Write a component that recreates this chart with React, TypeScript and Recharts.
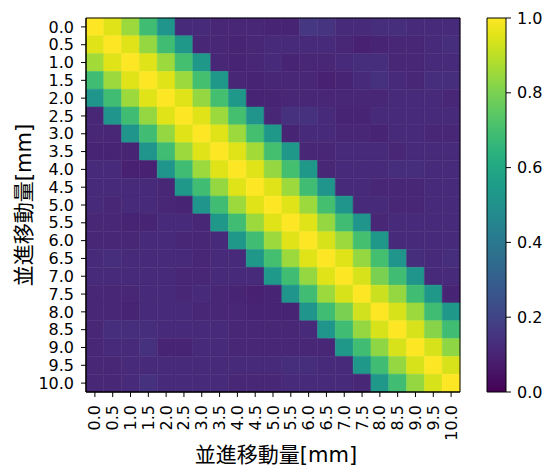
import React from "react";
import { ComposedChart, XAxis, YAxis, ReferenceArea } from "recharts";

const LABELS = ["0.0","0.5","1.0","1.5","2.0","2.5","3.0","3.5","4.0","4.5","5.0","5.5","6.0","6.5","7.0","7.5","8.0","8.5","9.0","9.5","10.0"];
const AXIS_TITLE = "並進移動量[mm]";
const CBAR_TICKS = [0, 0.2, 0.4, 0.6, 0.8, 1.0];

const ROW_00 = [1.00,0.95,0.85,0.69,0.52,0.12,0.12,0.11,0.11,0.11,0.10,0.10,0.16,0.15,0.12,0.12,0.13,0.13,0.12,0.12,0.12];
const ROW_01 = [0.95,1.00,0.95,0.84,0.69,0.53,0.11,0.11,0.10,0.11,0.12,0.12,0.12,0.12,0.11,0.09,0.10,0.11,0.11,0.12,0.13];
const ROW_02 = [0.86,0.95,1.00,0.95,0.85,0.70,0.53,0.11,0.10,0.11,0.12,0.10,0.11,0.11,0.12,0.13,0.13,0.11,0.11,0.12,0.12];
const ROW_03 = [0.69,0.85,0.95,1.00,0.95,0.85,0.70,0.53,0.11,0.10,0.11,0.11,0.11,0.09,0.10,0.12,0.14,0.12,0.11,0.13,0.13];
const ROW_04 = [0.52,0.69,0.85,0.95,1.00,0.95,0.84,0.70,0.53,0.10,0.10,0.11,0.11,0.11,0.11,0.11,0.11,0.12,0.12,0.12,0.11];
const ROW_05 = [0.11,0.52,0.69,0.84,0.95,1.00,0.95,0.85,0.70,0.52,0.11,0.14,0.14,0.12,0.10,0.10,0.12,0.12,0.12,0.12,0.12];
const ROW_06 = [0.11,0.11,0.52,0.69,0.84,0.95,1.00,0.95,0.85,0.70,0.53,0.10,0.12,0.12,0.11,0.11,0.10,0.12,0.12,0.11,0.11];
const ROW_07 = [0.10,0.10,0.10,0.52,0.69,0.85,0.95,1.00,0.95,0.86,0.70,0.53,0.11,0.11,0.12,0.12,0.12,0.11,0.12,0.12,0.12];
const ROW_08 = [0.12,0.12,0.09,0.09,0.52,0.69,0.85,0.95,1.00,0.95,0.84,0.70,0.53,0.11,0.12,0.12,0.12,0.13,0.13,0.12,0.12];
const ROW_09 = [0.12,0.12,0.12,0.12,0.11,0.53,0.69,0.84,0.95,1.00,0.95,0.85,0.69,0.52,0.12,0.12,0.11,0.11,0.11,0.12,0.12];
const ROW_10 = [0.12,0.11,0.12,0.12,0.11,0.10,0.52,0.69,0.85,0.95,1.00,0.95,0.85,0.70,0.52,0.12,0.12,0.11,0.11,0.12,0.12];
const ROW_11 = [0.11,0.11,0.10,0.10,0.12,0.12,0.11,0.53,0.69,0.85,0.95,1.00,0.95,0.84,0.69,0.52,0.11,0.12,0.12,0.12,0.12];
const ROW_12 = [0.11,0.11,0.11,0.12,0.12,0.11,0.11,0.12,0.53,0.69,0.85,0.95,1.00,0.94,0.85,0.70,0.53,0.12,0.12,0.12,0.12];
const ROW_13 = [0.12,0.13,0.12,0.12,0.12,0.12,0.11,0.12,0.12,0.53,0.70,0.85,0.95,1.00,0.95,0.84,0.70,0.52,0.13,0.12,0.13];
const ROW_14 = [0.12,0.12,0.12,0.12,0.12,0.11,0.11,0.12,0.12,0.12,0.54,0.69,0.84,0.95,1.00,0.94,0.80,0.69,0.52,0.12,0.12];
const ROW_15 = [0.11,0.11,0.11,0.12,0.12,0.11,0.12,0.11,0.10,0.09,0.10,0.52,0.69,0.85,0.94,1.00,0.92,0.84,0.69,0.53,0.10];
const ROW_16 = [0.11,0.11,0.10,0.12,0.12,0.12,0.11,0.11,0.11,0.10,0.10,0.10,0.52,0.69,0.80,0.93,1.00,0.94,0.85,0.69,0.53];
const ROW_17 = [0.11,0.13,0.13,0.13,0.12,0.12,0.12,0.12,0.11,0.11,0.11,0.11,0.12,0.52,0.69,0.84,0.94,1.00,0.94,0.82,0.69];
const ROW_18 = [0.11,0.12,0.12,0.14,0.10,0.10,0.12,0.12,0.11,0.11,0.11,0.11,0.11,0.11,0.53,0.69,0.83,0.94,1.00,0.94,0.83];
const ROW_19 = [0.11,0.11,0.12,0.12,0.12,0.12,0.12,0.12,0.12,0.12,0.12,0.13,0.13,0.12,0.12,0.53,0.69,0.84,0.94,1.00,0.94];
const ROW_20 = [0.11,0.11,0.12,0.14,0.12,0.12,0.12,0.12,0.11,0.11,0.11,0.12,0.12,0.12,0.12,0.11,0.53,0.69,0.84,0.94,1.00];

const MATRIX = [ROW_00,ROW_01,ROW_02,ROW_03,ROW_04,ROW_05,ROW_06,ROW_07,ROW_08,ROW_09,ROW_10,ROW_11,ROW_12,ROW_13,ROW_14,ROW_15,ROW_16,ROW_17,ROW_18,ROW_19,ROW_20];

// viridis colour map stops (style)
const VIRIDIS = ["#440154","#471365","#482475","#463480","#414487","#3b528b","#355f8d","#2f6c8e","#2a788e","#25848e","#21918c","#1e9c89","#22a884","#2fb47c","#44bf70","#5ec962","#7ad151","#9bd93c","#bddf26","#dfe318","#fde725"];

function hex(c: string) {
  return [parseInt(c.slice(1, 3), 16), parseInt(c.slice(3, 5), 16), parseInt(c.slice(5, 7), 16)];
}
function viridis(v: number) {
  const t = Math.max(0, Math.min(1, v)) * (VIRIDIS.length - 1);
  const i = Math.min(Math.floor(t), VIRIDIS.length - 2);
  const f = t - i;
  const a = hex(VIRIDIS[i]);
  const b = hex(VIRIDIS[i + 1]);
  const c = a.map((x, k) => Math.round(x + (b[k] - x) * f));
  return `rgb(${c[0]},${c[1]},${c[2]})`;
}

const cells = MATRIX.flatMap((row, r) => row.map((v, c) => ({ col: c, row: r, v })));
const IDX = LABELS.map((_, i) => i);

const FONT = "'DejaVu Sans', 'Noto Sans CJK JP', sans-serif";
const TICK_FS = 16;
const TICK_STYLE = { fontSize: TICK_FS, fill: "#000", fontFamily: FONT };

const XTick = (props: any) => {
  const { x, y, payload } = props;
  return (
    <text
      x={x}
      y={y}
      transform={`rotate(-90 ${x} ${y})`}
      textAnchor="end"
      dominantBaseline="central"
      fontSize={TICK_FS}
      fontFamily={FONT}
      fill="#000"
    >
      {LABELS[payload.value]}
    </text>
  );
};

export default function App() {
  return (
    <div style={{ position: "absolute", left: 0, top: 0, width: 547, height: 466, background: "#fff" }}>
      <div style={{ position: "absolute", left: 0, top: 0 }}>
        <ComposedChart width={547} height={466} data={cells} margin={{ top: 18, right: 87, bottom: 0, left: 0 }}>
          <XAxis
            type="number"
            dataKey="col"
            domain={[-0.5, 20.5]}
            ticks={IDX}
            interval={0}
            allowDataOverflow
            height={74}
            tick={<XTick />}
            tickSize={5}
            tickMargin={8}
            axisLine={{ stroke: "#000" }}
            tickLine={{ stroke: "#000" }}
          />
          <YAxis
            type="number"
            dataKey="row"
            domain={[-0.5, 20.5]}
            reversed
            ticks={IDX}
            interval={0}
            allowDataOverflow
            width={86}
            tick={TICK_STYLE}
            tickFormatter={(i: number) => LABELS[i]}
            tickSize={5}
            tickMargin={7}
            axisLine={{ stroke: "#000" }}
            tickLine={{ stroke: "#000" }}
          />
          {cells.map((d) => (
            <ReferenceArea
              key={`${d.row}-${d.col}`}
              x1={d.col - 0.5}
              x2={d.col + 0.5}
              y1={d.row - 0.5}
              y2={d.row + 0.5}
              fill={viridis(d.v)}
              fillOpacity={1}
              stroke={viridis(d.v)}
              strokeWidth={0.5}
              ifOverflow="visible"
            />
          ))}
          <ReferenceArea x1={-0.5} x2={20.5} y1={-0.5} y2={20.5} fill="none" fillOpacity={0} stroke="#000" strokeWidth={1} ifOverflow="visible" />
        </ComposedChart>
      </div>
      <div style={{ position: "absolute", left: 0, top: 0 }}>
        <ComposedChart width={547} height={466} data={[{ x: 0, y: 0 }]} margin={{ top: 18, right: 0, bottom: 74, left: 487 }}>
          <defs>
            <linearGradient id="viridisGrad" x1="0" y1="1" x2="0" y2="0">
              {VIRIDIS.map((c, i) => (
                <stop key={i} offset={`${(i / (VIRIDIS.length - 1)) * 100}%`} stopColor={c} />
              ))}
            </linearGradient>
          </defs>
          <XAxis type="number" dataKey="x" domain={[0, 1]} hide />
          <YAxis
            type="number"
            dataKey="y"
            orientation="right"
            domain={[0, 1]}
            ticks={CBAR_TICKS}
            interval={0}
            width={41}
            tick={TICK_STYLE}
            tickFormatter={(v: number) => v.toFixed(1)}
            tickSize={5}
            tickMargin={6}
            axisLine={false}
            tickLine={{ stroke: "#000" }}
          />
          <ReferenceArea x1={0} x2={1} y1={0} y2={1} fill="url(#viridisGrad)" fillOpacity={1} stroke="#000" strokeWidth={1} ifOverflow="visible" />
        </ComposedChart>
      </div>
      <svg width={547} height={466} style={{ position: "absolute", left: 0, top: 0, pointerEvents: "none" }}>
        <text x={276} y={455} textAnchor="middle" dominantBaseline="central" fontSize={21} fontFamily={FONT} fill="#000">
          {AXIS_TITLE}
        </text>
        <text x={24} y={205} transform="rotate(-90 24 205)" textAnchor="middle" dominantBaseline="central" fontSize={21} fontFamily={FONT} fill="#000">
          {AXIS_TITLE}
        </text>
      </svg>
    </div>
  );
}
